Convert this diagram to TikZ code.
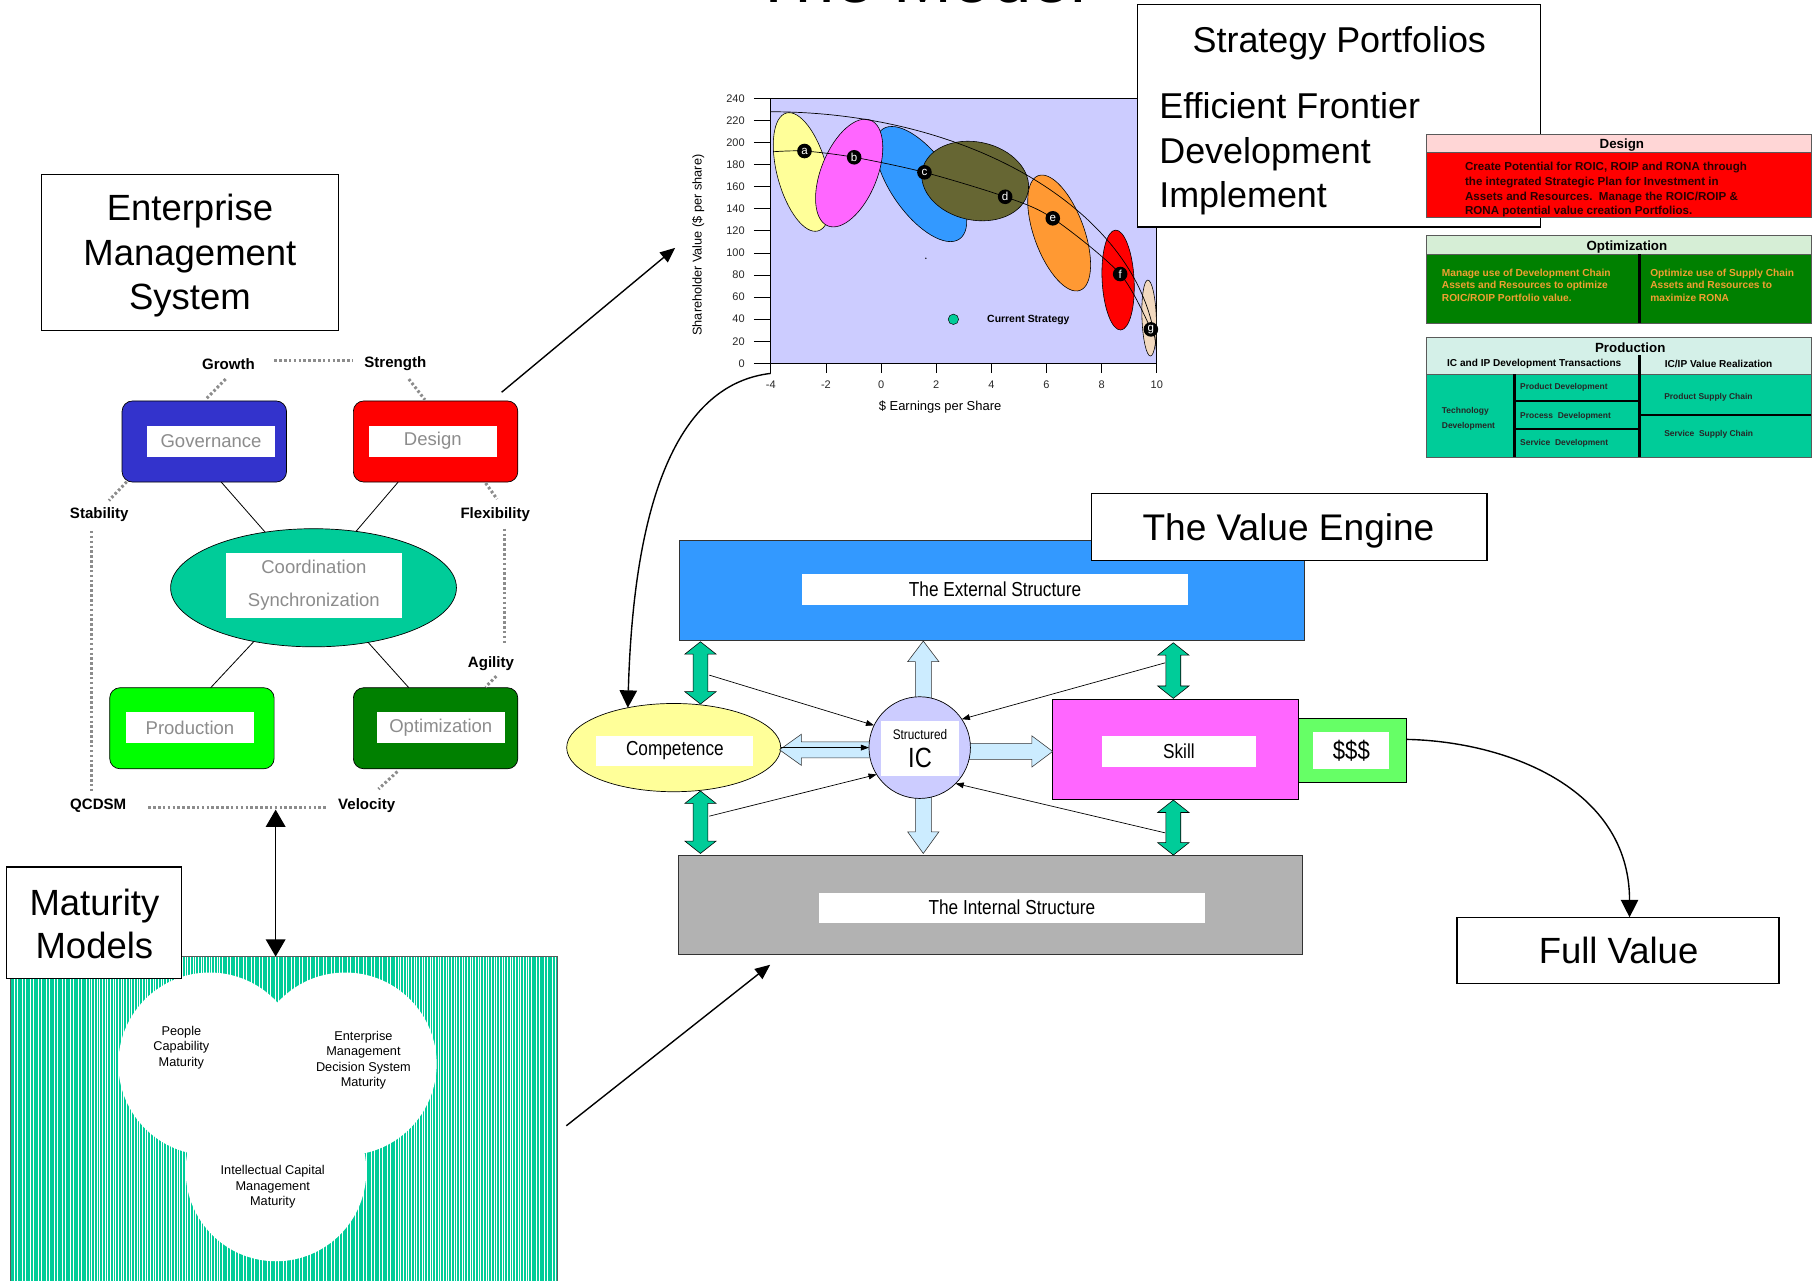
\documentclass[tikz,border=0pt]{standalone}
\usepackage{fontspec}
\setmainfont{Liberation Sans}
\newfontfamily\narrowfont[FakeStretch=0.85]{Liberation Sans}
\usetikzlibrary{arrows.meta,calc,shapes.geometric,patterns.meta}

\definecolor{govblue}{RGB}{51,51,204}
\definecolor{optgreen}{RGB}{0,128,0}
\definecolor{prodgreen}{RGB}{0,255,0}
\definecolor{seagreen}{RGB}{0,204,153}
\definecolor{plotbg}{RGB}{204,204,255}
\definecolor{ellyellow}{RGB}{255,255,153}
\definecolor{ellmagenta}{RGB}{255,102,255}
\definecolor{ellblue}{RGB}{51,153,255}
\definecolor{ellolive}{RGB}{102,102,51}
\definecolor{ellorange}{RGB}{255,153,51}
\definecolor{elltan}{RGB}{242,217,191}
\definecolor{skyblue}{RGB}{51,153,255}
\definecolor{paleblue}{RGB}{204,236,255}
\definecolor{intgray}{RGB}{178,178,178}
\definecolor{dollargreen}{RGB}{102,255,102}
\definecolor{skillpink}{RGB}{255,102,255}
\definecolor{labelgray}{RGB}{140,140,140}
\definecolor{dotgray}{RGB}{140,140,140}
\definecolor{goldtext}{RGB}{240,160,50}
\definecolor{darkred}{RGB}{40,0,0}
\definecolor{tickgray}{RGB}{40,40,40}
\definecolor{panelgray}{RGB}{90,90,90}
\definecolor{pinkhead}{RGB}{255,214,214}
\definecolor{greenhead}{RGB}{214,238,214}
\definecolor{tealhead}{RGB}{212,240,232}
\definecolor{stripebg}{RGB}{190,245,230}

\begin{document}
\begin{tikzpicture}[x=1pt, y=-1pt,
  every node/.style={inner sep=0pt, outer sep=0pt},
  titlefont/.style={font=\fontsize{31.5}{38.5}\selectfont, align=center},
  framebox/.style={draw=black, line width=1pt, fill=white},
  emsbox/.style={draw=black, line width=0.6pt, rounded corners=9pt, minimum width=142pt, minimum height=70pt},
  emslabel/.style={fill=white, text=labelgray, font=\fontsize{16}{18}\selectfont, minimum width=110.4pt, minimum height=27pt},
  attr/.style={font=\bfseries\fontsize{13}{15}\selectfont},
  dotlink/.style={dotgray, line width=2.6pt, dash pattern=on 2.2pt off 2pt},
  linkline/.style={black, line width=0.7pt},
  conn/.style={black, line width=1.2pt, -{Triangle[length=13pt,width=11pt]}},
  bigconn/.style={black, line width=1.2pt, -{Triangle[length=15pt,width=15pt]}},
  thinarrow/.style={black, line width=0.6pt, -{Triangle[length=7pt,width=5pt]}},
  axistick/.style={black, line width=0.6pt},
  ticklbl/.style={text=tickgray, font=\fontsize{9.5}{10}\selectfont},
  ptmark/.style={circle, fill=black, text=white, minimum size=12.6pt, font=\fontsize{10}{10}\selectfont},
  ell/.style={draw=black, line width=0.5pt},
  panel/.style={draw=panelgray, line width=0.6pt, minimum width=332.1pt},
  paneltitle/.style={font=\bfseries\fontsize{11.5}{12}\selectfont},
  designtext/.style={anchor=base west, text=darkred, font=\bfseries\fontsize{10}{12}\selectfont},
  opttext/.style={anchor=base west, text=goldtext, font=\bfseries\fontsize{8.8}{10}\selectfont},
  subhead/.style={font=\bfseries\fontsize{8.7}{10}\selectfont},
  celltext/.style={anchor=base west, font=\bfseries\fontsize{7.3}{8}\selectfont, text=black!85},
  divider/.style={black, line width=2pt},
  engbox/.style={draw=black!80, line width=0.8pt},
  narrowlbl/.style={fill=white, font=\narrowfont\fontsize{17.5}{18}\selectfont},
  greenarrow/.style={fill=seagreen, draw=black, line width=0.5pt},
  bluearrow/.style={fill=paleblue, draw=black!80, line width=0.5pt},
  matlbl/.style={align=center, font=\fontsize{11}{13.3}\selectfont}
]
\useasboundingbox (0,0) rectangle (1568,1106);
\fill[white] (0,0) rectangle (1568,1106);

% ---------- heading (runs off the top edge)
\node[anchor=base, font=\fontsize{61}{61}\selectfont] (title) at (794,2.5) {The Model};

% ---------- efficient frontier chart
\node[draw=black, line width=0.6pt, fill=plotbg, minimum width=333.3pt, minimum height=228.8pt] (plot) at (832.15,199.3) {};
\foreach \v in {0,20,...,240} {
  \draw[axistick] (651,{313.7-0.9533*\v}) -- (665.5,{313.7-0.9533*\v});
  \node[ticklbl, anchor=east] (ylbl\v) at (643,{313.7-0.9533*\v}) {\v};
}
\foreach \v in {-4,-2,...,10} {
  \draw[axistick] ({665.5+23.81*(\v+4)},313.7) -- ({665.5+23.81*(\v+4)},322);
  \node[ticklbl] (xlbl\v) at ({665.5+23.81*(\v+4)},332.5) {\v};
}
\node[rotate=90, font=\fontsize{11}{11}\selectfont] (ytitle) at (602.8,211.6) {Shareholder Value (\$ per share)};
\node[font=\fontsize{11.2}{11.2}\selectfont] (xtitle) at (811.7,351.5) {\$ Earnings per Share};

\draw[ell, fill=ellyellow, rotate around={15:(692.6,148.5)}] (692.6,148.5) ellipse[x radius=21.6pt, y radius=52.7pt];
\draw[ell, fill=ellblue, rotate around={35:(795.3,158.9)}] (795.3,158.9) ellipse[x radius=25.9pt, y radius=57.9pt];
\draw[ell, fill=ellmagenta, rotate around={-22:(733.2,149.4)}] (733.2,149.4) ellipse[x radius=24.2pt, y radius=49.2pt];
\draw[ell, fill=ellolive, rotate around={-12:(842,156.3)}] (842,156.3) ellipse[x radius=46.6pt, y radius=33.7pt];
\draw[ell, fill=ellorange, rotate around={20:(914.5,201.2)}] (914.5,201.2) ellipse[x radius=21.6pt, y radius=52.7pt];
\draw[ell, fill=red, rotate around={3:(965.4,241.8)}] (965.4,241.8) ellipse[x radius=13.8pt, y radius=43.2pt];
\draw[ell, fill=elltan, rotate around={2:(992.2,274.6)}] (992.2,274.6) ellipse[x radius=6.2pt, y radius=32.8pt];

\draw[line width=0.6pt] (665.5,96.5) arc[start angle=90, end angle=3, x radius=333.3pt, y radius=217.2pt];
\draw[line width=0.6pt] plot[smooth, tension=0.5] coordinates {(667.8,131) (694.6,130.4) (737.5,135.8) (798.2,148.8) (867.9,169.9) (909,188.5) (967.2,236.6) (993.7,284.4)};
\node[ptmark] (pa) at (694.6,130.4) {a};
\node[ptmark] (pb) at (737.5,135.8) {b};
\node[ptmark] (pc) at (798.2,148.8) {c};
\node[ptmark] (pd) at (867.9,169.9) {d};
\node[ptmark] (pe) at (909,188.5) {e};
\node[ptmark] (pf) at (967.2,236.6) {f};
\node[ptmark] (pg) at (993.7,284.4) {g};
\fill[black] (799.4,223) circle[radius=0.7pt];
\node[circle, draw=black, line width=0.4pt, fill=seagreen, minimum size=9pt] (cur) at (823.2,275.7) {};
\node[anchor=west, font=\bfseries\fontsize{9}{9}\selectfont] (curlbl) at (852.4,276.5) {Current Strategy};

% ---------- strategy portfolios caption
\node[framebox, minimum width=348pt, minimum height=192pt] (strat) at (1156,100) {};
\node[anchor=base, font=\fontsize{31}{31}\selectfont] (strathead) at (1156.4,45) {Strategy Portfolios};
\node[anchor=base west, font=\fontsize{31}{31}\selectfont] (stratA) at (1001,102) {Efficient Frontier};
\node[anchor=base west, font=\fontsize{31}{31}\selectfont] (stratB) at (1001,141) {Development};
\node[anchor=base west, font=\fontsize{31}{31}\selectfont] (stratC) at (1001,179) {Implement};

% ---------- design panel
\node[panel, fill=pinkhead, minimum height=15.8pt] (dhead) at (1397.55,123.6) {};
\node[paneltitle] (dheadt) at (1400.4,125.3) {Design};
\node[panel, fill=red, minimum height=56.2pt] (dbody) at (1397.55,159.6) {};
\node[designtext] (dl1) at (1265,147.5) {Create Potential for ROIC, ROIP and RONA through};
\node[designtext] (dl2) at (1265,160.2) {the integrated Strategic Plan for Investment in};
\node[designtext] (dl3) at (1265,172.7) {Assets and Resources.\ \ Manage the ROIC/ROIP \&};
\node[designtext] (dl4) at (1265,184.9) {RONA potential value creation Portfolios.};

% ---------- optimization panel
\node[panel, fill=greenhead, minimum height=16.1pt] (ohead) at (1397.55,211.55) {};
\node[paneltitle] (oheadt) at (1404.7,213.2) {Optimization};
\node[panel, fill=optgreen, minimum height=59.6pt] (obody) at (1397.55,249.4) {};
\draw[divider] (1415.6,219.6) -- (1415.6,279.2);
\node[opttext] (ol1) at (1245,238.4) {Manage use of Development Chain};
\node[opttext] (ol2) at (1245,248.7) {Assets and Resources to optimize};
\node[opttext] (ol3) at (1245,259.9) {ROIC/ROIP Portfolio value.};
\node[opttext] (or1) at (1424.9,238.4) {Optimize use of Supply Chain};
\node[opttext] (or2) at (1424.9,248.7) {Assets and Resources to};
\node[opttext] (or3) at (1424.9,259.9) {maximize RONA};

% ---------- production panel
\node[panel, fill=tealhead, minimum height=31.7pt] (phead) at (1397.55,307.15) {};
\node[paneltitle] (pheadt) at (1407.6,300.6) {Production};
\node[subhead] (psubA) at (1324.7,314.4) {IC and IP Development Transactions};
\node[subhead] (psubB) at (1483.9,314.4) {IC/IP Value Realization};
\node[panel, fill=seagreen, minimum height=71.9pt] (pbody) at (1397.55,358.95) {};
\draw[divider] (1415.6,306.6) -- (1415.6,394.9);
\draw[divider] (1307.7,323) -- (1307.7,394.9);
\draw[divider] (1307.7,346.3) -- (1415.6,346.3);
\draw[divider] (1307.7,370.7) -- (1415.6,370.7);
\draw[divider] (1415.6,358.4) -- (1563.6,358.4);
\node[celltext] (ctech1) at (1245,356.7) {Technology};
\node[celltext] (ctech2) at (1245,369.6) {Development};
\node[celltext] (cprod) at (1312.6,336.5) {Product Development};
\node[celltext] (cproc) at (1312.6,361) {Process\ \ Development};
\node[celltext] (cserv) at (1312.6,384.3) {Service\ \ Development};
\node[celltext] (cpsc) at (1437,344.6) {Product Supply Chain};
\node[celltext] (cssc) at (1437,376.8) {Service\ \ Supply Chain};

% ---------- enterprise management system
\node[framebox, minimum width=256pt, minimum height=134pt] (ems) at (164,218) {};
\node[titlefont] (emstext) at (164,221) {Enterprise\\Management\\System};

\node[attr] (growth) at (197.3,314.2) {Growth};
\node[attr] (strength) at (341.3,314.2) {Strength};
\node[attr] (stability) at (85.7,444.1) {Stability};
\node[attr] (flex) at (427.6,444.1) {Flexibility};
\node[attr] (agility) at (423.9,572.6) {Agility};
\node[attr] (qcdsm) at (84.8,695.4) {QCDSM};
\node[attr] (velocity) at (316.6,695.4) {Velocity};

\node[emsbox, fill=govblue] (gov) at (176.4,381.2) {};
\node[emslabel] (govlbl) at (182.2,380.9) {Governance};
\node[emsbox, fill=red] (des) at (376.1,381.2) {};
\node[emslabel] (deslbl) at (373.7,380.9) {Design};
\node[ellipse, draw=black, line width=0.6pt, fill=seagreen, minimum width=246.8pt, minimum height=102pt] (coord) at (270.7,507.5) {};
\node[emslabel, minimum width=151.6pt, minimum height=56.2pt, align=center, font=\fontsize{16}{28.4}\selectfont] (coordlbl) at (271,505.2) {Coordination\\Synchronization};
\node[emsbox, fill=prodgreen] (prod) at (165.7,628.8) {};
\node[emslabel] (prodlbl) at (164,628.1) {Production};
\node[emsbox, fill=optgreen] (opt) at (376.1,628.8) {};
\node[emslabel] (optlbl) at (380.6,628.1) {Optimization};

\draw[linkline] ($(gov.south)+(14.6,0)$) -- (coord.131);
\draw[linkline] ($(des.south)+(-32.3,0)$) -- (coord.53);
\draw[linkline] ($(prod.north)+(16.2,0)$) -- (coord.222);
\draw[linkline] ($(opt.north)+(-23.1,0)$) -- (coord.315);

\draw[dotlink] (236.8,311.6) -- (305.2,311.6);
\draw[dotlink] (194.8,327.3) -- (177.3,345.2);
\draw[dotlink] (353,327.3) -- (366.9,345.2);
\draw[dotlink] (109.4,416) -- (94,432.2);
\draw[dotlink] (419.3,417.1) -- (429.2,430.9);
\draw[dotlink] (78.9,458.4) -- (78.9,683);
\draw[dotlink] (435.3,456.5) -- (435.3,555.8);
\draw[dotlink] (428.5,583.8) -- (419.3,593.2);
\draw[dotlink] (343.1,666.2) -- (326.8,681.3);
\draw[dotlink] (128,696.9) -- (282.1,696.9);

% ---------- maturity models
\node[draw=panelgray, line width=0.6pt, fill=stripebg, pattern={Lines[angle=90,distance=2.3pt,line width=1.6pt]}, pattern color=seagreen, minimum width=472pt, minimum height=300pt, anchor=north west] (matrect) at (9,826) {};
\fill[white] (181.1,918.6) circle[radius=78.9pt] (298.1,918.6) circle[radius=78.9pt] (238.3,1011) circle[radius=78pt];
\node[matlbl] (people) at (156.6,904.6) {People\\Capability\\Maturity};
\node[matlbl] (emdsm) at (313.8,915.5) {Enterprise\\Management\\Decision System\\Maturity};
\node[matlbl] (icm) at (235.5,1024.8) {Intellectual Capital\\Management\\Maturity};
\node[framebox, minimum width=151pt, minimum height=96pt] (matbox) at (81.2,796.6) {};
\node[titlefont, font=\fontsize{31.5}{37.4}\selectfont] (mattext) at (81.5,797.5) {Maturity\\Models};

% ---------- value engine
\node[engbox, fill=skyblue, minimum width=539.4pt, minimum height=86.1pt] (ext) at (856.6,510) {};
\node[narrowlbl, minimum width=333.4pt, minimum height=26.5pt] (extlbl) at (859.2,509) {The External Structure};
\node[engbox, fill=intgray, minimum width=539.3pt, minimum height=85.8pt] (int) at (855.2,781.1) {};
\node[narrowlbl, minimum width=333pt, minimum height=26.1pt] (intlbl) at (873.7,783.7) {The Internal Structure};
\node[framebox, minimum width=341.7pt, minimum height=57.6pt] (vebox) at (1113,454.8) {};
\node[anchor=base, font=\fontsize{32}{32}\selectfont] (vetext) at (1112.5,466.3) {The Value Engine};

\node[ellipse, draw=black, line width=0.6pt, fill=ellyellow, minimum width=184.8pt, minimum height=76.2pt] (comp) at (581.7,645.5) {};
\node[narrowlbl, minimum width=135.4pt, minimum height=25.9pt] (complbl) at (582.7,648.2) {Competence};
\node[draw=black, line width=0.6pt, fill=skillpink, minimum width=212.2pt, minimum height=86.4pt] (skill) at (1014.6,647.1) {};
\node[narrowlbl, minimum width=132.6pt, minimum height=26.4pt] (skilllbl) at (1017.9,648.8) {Skill};
\node[draw=black, line width=0.6pt, fill=dollargreen, minimum width=93.3pt, minimum height=55.3pt] (dollar) at (1167.4,648) {};
\node[fill=white, minimum width=65.8pt, minimum height=31.4pt, font=\narrowfont\fontsize{22.5}{22.5}\selectfont] (dollarlbl) at (1166.8,648.1) {\$\$\$};
\node[framebox, minimum width=278pt, minimum height=57pt] (full) at (1397,820.5) {};
\node[anchor=base, font=\fontsize{31.5}{31.5}\selectfont] (fulltext) at (1397.5,831.9) {Full Value};

% green two-way block arrows between the structures and competence / skill
\filldraw[greenarrow] (604.8,554.1) -- (618.3,564.8) -- (611.2,564.8) -- (611.2,597.2) -- (618.3,597.2) -- (604.8,607.9) -- (591.3,597.2) -- (598.4,597.2) -- (598.4,564.8) -- (591.3,564.8) -- cycle;
\filldraw[greenarrow] (604.8,683) -- (618.3,693.7) -- (611.2,693.7) -- (611.2,726.2) -- (618.3,726.2) -- (604.8,736.9) -- (591.3,726.2) -- (598.4,726.2) -- (598.4,693.7) -- (591.3,693.7) -- cycle;
\filldraw[greenarrow] (1013.1,555) -- (1026.6,565.7) -- (1019.5,565.7) -- (1019.5,592.3) -- (1026.6,592.3) -- (1013.1,603) -- (999.6,592.3) -- (1006.7,592.3) -- (1006.7,565.7) -- (999.6,565.7) -- cycle;
\filldraw[greenarrow] (1013.1,690.8) -- (1026.6,701.5) -- (1019.5,701.5) -- (1019.5,727.6) -- (1026.6,727.6) -- (1013.1,738.3) -- (999.6,727.6) -- (1006.7,727.6) -- (1006.7,701.5) -- (999.6,701.5) -- cycle;

% pale blue block arrows leaving the structured IC
\filldraw[bluearrow] (797.2,553.5) -- (810.7,571.3) -- (804.1,571.3) -- (804.1,612) -- (790.3,612) -- (790.3,571.3) -- (783.7,571.3) -- cycle;
\filldraw[bluearrow] (797.2,736.9) -- (810.7,718.2) -- (804.1,718.2) -- (804.1,680) -- (790.3,680) -- (790.3,718.2) -- (783.7,718.2) -- cycle;
\filldraw[bluearrow] (908.9,648.8) -- (890.9,635.3) -- (890.9,641.9) -- (826,641.9) -- (826,655.7) -- (890.9,655.7) -- (890.9,662.3) -- cycle;
\filldraw[bluearrow] (673.1,647.4) -- (692,633.9) -- (692,640.5) -- (762,640.5) -- (762,654.3) -- (692,654.3) -- (692,660.9) -- cycle;

\node[ellipse, draw=black, line width=0.6pt, fill=plotbg, minimum width=87.6pt, minimum height=87.8pt] (ic) at (794.1,645.5) {};
\node[fill=white, minimum width=67.3pt, minimum height=47.2pt] (icbox) at (794.4,646.2) {};
\node[font=\narrowfont\fontsize{12}{12}\selectfont] (icstruct) at (794.4,633.9) {Structured};
\node[font=\narrowfont\fontsize{24}{24}\selectfont] (icbig) at (794.4,654) {IC};

% thin arrows feeding the structured IC
\coordinate (fromLt) at (612.4,582.9);
\coordinate (fromRt) at (1006,572.3);
\coordinate (fromLb) at (612.4,704.7);
\coordinate (fromRb) at (1006,719.1);
\draw[thinarrow] (fromLt) -- (ic.154);
\draw[thinarrow] (fromRt) -- (ic.34);
\draw[thinarrow] (fromLb) -- (ic.212);
\draw[thinarrow] (fromRb) -- (ic.315);
\draw[thinarrow] (comp.east) -- (ic.west);

% ---------- connectors between the parts
\coordinate (chartin) at (583,214);
\coordinate (matout) at (489,972);
\coordinate (enginein) at (665,833);
\coordinate (velmid) at (238,699);
\coordinate (mattop) at (238,826);
\draw[conn] ($(des.north east)+(-14,-7.5)$) -- (chartin);
\draw[conn] (matout) -- (enginein);
\draw[bigconn] ($(plot.south west)+(0,8.7)$) .. controls (600,330) and (548,400) .. (comp.139);
\draw[bigconn] ($(dollar.east)+(0,-9.6)$) .. controls (1300,640) and (1407,680) .. ($(full.north)+(10,0)$);
\draw[line width=1.3pt, {Triangle[length=15pt,width=17pt]}-{Triangle[length=15pt,width=17pt]}] (velmid) -- (mattop);
\end{tikzpicture}
\end{document}
